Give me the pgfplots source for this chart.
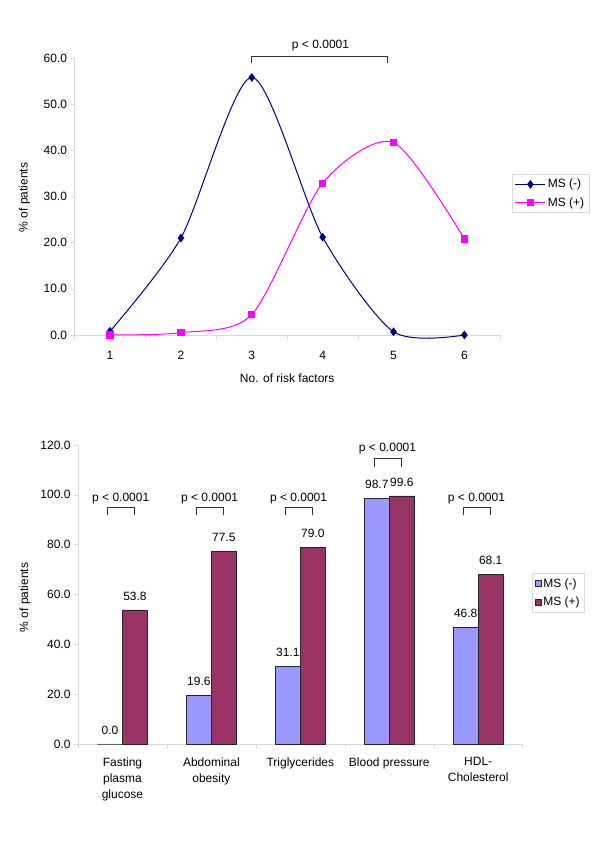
\documentclass[border=0pt]{standalone}
\usepackage{pgfplots}
\pgfplotsset{compat=1.18}
\usepackage{fontspec}
\setmainfont{Liberation Sans}
\definecolor{navyline}{HTML}{000080}
\definecolor{magline}{HTML}{FF00FF}
\definecolor{barneg}{HTML}{9999FF}
\definecolor{barpos}{HTML}{993366}
\definecolor{axgray}{HTML}{D9D9D9}
\pgfkeys{/pgf/number format/assume math mode=true}
\newcommand{\fs}{\fontsize{12}{14}\selectfont}
\pgfplotsset{
  exstyle/.style={
    scale only axis,
    axis x line=bottom, axis y line=left,
    axis line style={axgray, -},
    tick align=outside,
    major tick length=4pt, minor tick length=4pt,
    every tick/.style={axgray},
    major x tick style={draw=none},
    minor x tick style={axgray},
    tick label style={font=\fs, text=black},
    yticklabel={\pgfmathprintnumber[fixed,fixed zerofill,precision=1]{\tick}},
    legend style={draw=axgray, font=\fs, row sep=4pt, inner sep=3pt},
    legend cell align=left,
    clip=false,
  }
}
\begin{document}
\begin{tikzpicture}[x=1pt,y=1pt]
\useasboundingbox (0,0) rectangle (600,849);
% top: distribution of risk factors
\begin{axis}[exstyle,
  at={(74.6pt,514pt)}, anchor=south west,
  width=425.2pt, height=277pt,
  xmin=0.5, xmax=6.5, ymin=0, ymax=60,
  xtick={1,...,6}, minor xtick={0.5,1.5,...,6.5},
  ytick={0,10,...,60},
  xlabel={No. of risk factors}, ylabel={\% of patients},
  every axis x label/.style={at={(axis description cs:0.5,0)}, anchor=center, yshift=-43pt, font=\fs},
  every axis y label/.style={at={(axis description cs:-0.1176,0.496)}, rotate=90, anchor=center, font=\fs},
  xticklabel style={yshift=-8.5pt},
  legend style={at={(axis description cs:1.028,0.581)}, anchor=north west},
  legend image code/.code={\draw[mark repeat=2, mark phase=2, #1] plot coordinates {(0pt,0pt) (15pt,0pt) (30pt,0pt)};},
]
\addplot[navyline, line width=1pt, smooth, tension=0.45, mark=diamond*, mark size=3.6pt, mark options={fill=navyline, draw=navyline}]
  coordinates {(1,0.8) (2,21.0) (3,55.8) (4,21.2) (5,0.7) (6,0.0)};
\addlegendentry{MS (-)}
\addplot[magline, line width=1pt, smooth, tension=0.45, mark=square*, mark size=3.1pt, mark options={fill=magline, draw=magline}]
  coordinates {(1,0.0) (2,0.5) (3,4.4) (4,32.9) (5,41.7) (6,20.8)};
\addlegendentry{MS (+)}
\draw[black!80, line width=0.8pt] (axis cs:3,58.85) -- (axis cs:3,60.4) -- (axis cs:4.91,60.4) -- (axis cs:4.91,58.85);
\node[font=\fs] at (axis cs:3.97,62.8) {p < 0.0001};
\end{axis}
% bottom: individual criteria
\begin{axis}[exstyle,
  at={(78pt,105pt)}, anchor=south west,
  width=444.7pt, height=299pt,
  xmin=0.5, xmax=5.5, ymin=0, ymax=120,
  ybar=0pt, bar width=25pt,
  xtick={1,...,5}, minor xtick={0.5,1.5,...,5.5},
  xticklabels={{Fasting\\plasma\\glucose},{Abdominal\\obesity},Triglycerides,Blood pressure,{HDL-\\Cholesterol}},
  xticklabel style={align=center, anchor=north, yshift=-6pt, font=\fontsize{12}{16.2}\selectfont},
  ytick={0,20,...,120},
  ylabel={\% of patients},
  every axis y label/.style={at={(axis description cs:-0.119,0.49)}, rotate=90, anchor=center, font=\fs},
  legend style={at={(axis description cs:1.020,0.571)}, anchor=north west},
  legend image code/.code={\draw[#1, line width=0.5pt] (0pt,-3pt) rectangle (6pt,3pt);},
  nodes near coords={\pgfmathprintnumber[fixed,fixed zerofill,precision=1]{\pgfplotspointmeta}},
  every node near coord/.append style={font=\fs, text=black, yshift=6pt},
]
\addplot[draw=black!85, fill=barneg, line width=0.6pt]
  coordinates {(1,0.0) (2,19.6) (3,31.1) (4,98.7) (5,46.8)};
\addlegendentry{MS (-)}
\addplot[draw=black!85, fill=barpos, line width=0.6pt]
  coordinates {(1,53.8) (2,77.5) (3,79.0) (4,99.6) (5,68.1)};
\addlegendentry{MS (+)}
\pgfplotsinvokeforeach{1,2,3,5}{
  \draw[black!80, line width=0.8pt] (axis cs:#1-0.165,91.8) -- (axis cs:#1-0.165,94.9) -- (axis cs:#1+0.135,94.9) -- (axis cs:#1+0.135,91.8);
  \node[font=\fs] at (axis cs:#1-0.02,98.6) {p < 0.0001};
}
\draw[black!80, line width=0.8pt] (axis cs:3.835,111.1) -- (axis cs:3.835,114.5) -- (axis cs:4.14,114.5) -- (axis cs:4.14,111.1);
\node[font=\fs] at (axis cs:3.98,118.5) {p < 0.0001};
\end{axis}
\end{tikzpicture}
\end{document}
